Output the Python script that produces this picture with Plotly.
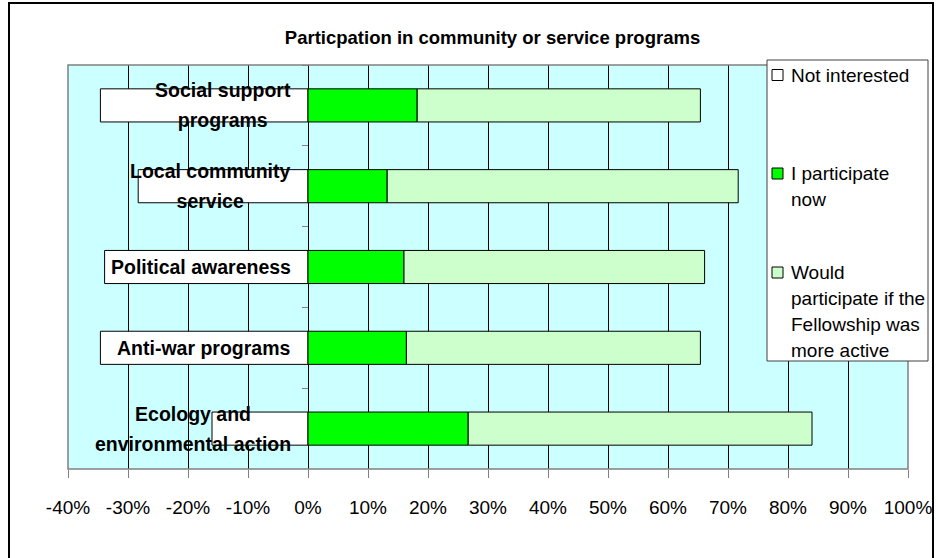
import plotly.graph_objects as go

# ---------------- data ----------------
categories = ["Social support<br>programs", "Local community<br>service", "Political awareness",
              "Anti-war programs", "Ecology and<br>environmental action"]
not_interested = [-34.6, -28.3, -33.9, -34.6, -16.0]
participate_now = [18.2, 13.2, 16.0, 16.4, 26.7]
would_participate = [47.2, 58.5, 50.1, 49.0, 57.3]
series_names = ["Not interested", "I participate<br>now",
                "Would<br>participate if the<br>Fellowship was<br>more active"]
tick_values = [-40, -30, -20, -10, 0, 10, 20, 30, 40, 50, 60, 70, 80, 90, 100]
tick_labels = ["-40%", "-30%", "-20%", "-10%", "0%", "10%", "20%", "30%", "40%",
               "50%", "60%", "70%", "80%", "90%", "100%"]
title_text = "Particpation in community or service programs"

# ---------------- styles / layout ----------------
W, H = 938, 558
L, R, T, B = 68, 30, 65, 89
PW, PH = W - L - R, H - T - B
FONT = "Arial, Liberation Sans, sans-serif"
colors = ["#FFFFFF", "#00FF00", "#CCFFCC"]


def px_x(px):
    return (px - L) / PW


def px_y(py):
    return (H - B - py) / PH


fig = go.Figure()
for name, vals, col in zip(series_names, [not_interested, participate_now, would_participate], colors):
    fig.add_trace(go.Bar(
        y=categories, x=vals, name=name.replace("<br>", " "), orientation="h",
        marker=dict(color=col, line=dict(color="black", width=1)),
        width=0.41, showlegend=False,
    ))

# category labels (bold, centred lines, right-aligned block at x=0)
for cat in categories:
    lines = cat.split("<br>")
    txt = "<br>".join(f"<span style='font-size:19.5px'>{ln}</span>" for ln in lines)
    fig.add_annotation(
        x=0, y=cat, xref="x", yref="y", text=txt, showarrow=False,
        xanchor="right", yanchor="middle", align="center", xshift=-15,
        font=dict(family=FONT, size=23, color="black", weight="bold"),
    )

shapes = []
# outer chart frame
shapes.append(dict(type="rect", xref="paper", yref="paper",
                   x0=px_x(9), x1=px_x(933), y0=px_y(575), y1=px_y(3),
                   line=dict(color="black", width=2), fillcolor="rgba(0,0,0,0)", layer="above"))
# plot area border
shapes.append(dict(type="rect", xref="paper", yref="paper", x0=0, x1=1, y0=0, y1=1,
                   line=dict(color="#808080", width=1.5), fillcolor="rgba(0,0,0,0)", layer="above"))
# legend box
shapes.append(dict(type="rect", xref="paper", yref="paper",
                   x0=px_x(767), x1=px_x(928), y0=px_y(361), y1=px_y(60),
                   line=dict(color="#404040", width=1), fillcolor="white", layer="above"))
entry_y = [75, 173.5, 272.5]
line_gap = 26
for name, col, ey in zip(series_names, colors, entry_y):
    shapes.append(dict(type="rect", xref="paper", yref="paper",
                       x0=px_x(772), x1=px_x(783), y0=px_y(ey + 5.5), y1=px_y(ey - 5.5),
                       line=dict(color="black", width=1), fillcolor=col, layer="above"))
    for i, ln in enumerate(name.split("<br>")):
        fig.add_annotation(
            x=px_x(789), y=px_y(ey + i * line_gap), xref="paper", yref="paper",
            text=ln, showarrow=False, xanchor="left", yanchor="middle", align="left",
            font=dict(family=FONT, size=19, color="black"),
        )

fig.update_layout(
    width=W, height=H, autosize=False, margin=dict(l=L, r=R, t=T, b=B),
    paper_bgcolor="white", plot_bgcolor="#CCFFFF",
    barmode="relative", bargap=0.59,
    showlegend=False,
    title=dict(text=f"<b>{title_text}</b>", x=492.5 / W, xref="container", xanchor="center",
               y=1 - 38 / H, yref="container", yanchor="middle",
               font=dict(family=FONT, size=18.5, color="black")),
    shapes=shapes,
    xaxis=dict(range=[-40, 100], tickvals=tick_values, ticktext=tick_labels,
               automargin=False,
               showgrid=True, gridcolor="black", gridwidth=1,
               zeroline=True, zerolinecolor="black", zerolinewidth=1,
               ticks="outside", ticklen=8, tickcolor="#808080", tickwidth=1,
               ticklabelstandoff=13,
               tickfont=dict(family=FONT, size=19, color="black"),
               showline=False, fixedrange=True),
    yaxis=dict(range=[4.5, -0.5], type="category", anchor="free", position=40 / 140,
               automargin=False,
               showticklabels=False, showgrid=False, zeroline=False, showline=False,
               ticks="outside", tickson="boundaries", ticklen=6, tickcolor="#808080",
               tickwidth=1, fixedrange=True),
    font=dict(family=FONT, color="black"),
)

fig.write_html(
    "out.html",
    config={"displayModeBar": False},
    post_script="document.body.style.margin='0';document.body.style.overflow='hidden';",
)
